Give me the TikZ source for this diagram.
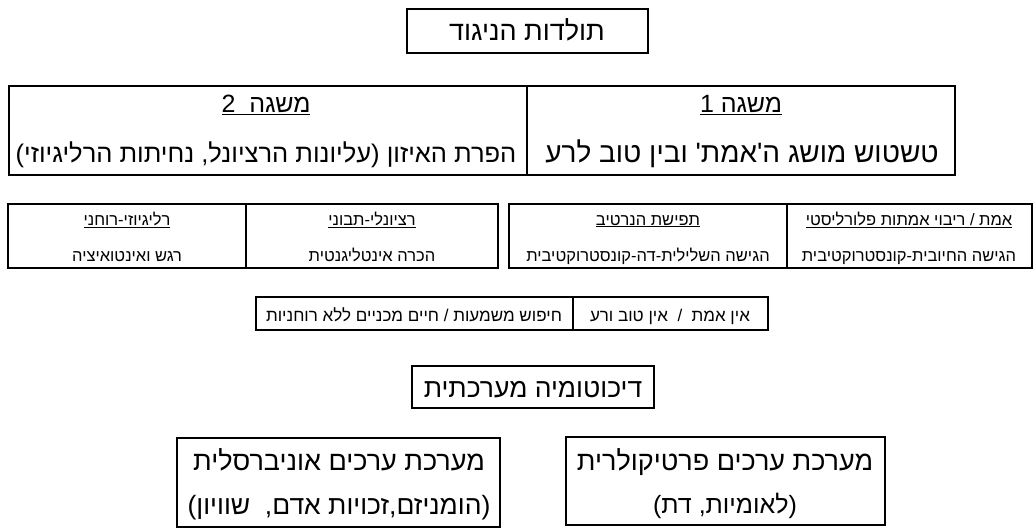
\documentclass[tikz,border=0pt]{standalone}
\usepackage{fontspec}
\TeXXeTstate=1
\newfontfamily\heb[Script=Hebrew]{Liberation Sans}
\newcommand{\hb}[1]{\beginR #1\endR}
\newcommand{\uhb}[1]{\underline{\hb{#1}}}
\newcommand{\fs}[1]{\fontsize{#1}{#1}\selectfont}
\begin{document}
\begin{tikzpicture}[x=1pt,y=-1pt,
  boxline/.style={draw=black,line width=1.3pt},
  txt/.style={anchor=base,inner sep=0pt,font=\heb},
  big/.style={txt,font=\heb\fs{27}},
  mid/.style={txt,font=\heb\fs{16.5}},
  sml/.style={txt,font=\heb\fs{17}}]
\useasboundingbox (0,0) rectangle (1036,532);
% title
\draw[boxline] (407,9) rectangle (648,53);
\node[big] (title) at (527,41) {\hb{תולדות הניגוד}};
% row 1
\draw[boxline] (9,86) rectangle (955,175);
\draw[boxline] (527,86) -- (527,175);
\node[big,font=\heb\fs{25}] (h1) at (741,113) {\uhb{משגה 1}};
\node[big,font=\heb\fs{28}] (t1) at (742,163) {\hb{טשטוש מושג ה'אמת' ובין טוב לרע}};
\node[big,font=\heb\fs{25}] (h2) at (266,113) {\uhb{משגה \ 2}};
\node[big,font=\heb\fs{25.5}] (t2) at (266,163) {\hb{הפרת האיזון (עליונות הרציונל, נחיתות הרליגיוזי)}};
% row 2 right
\draw[boxline] (509,204) rectangle (1032,268);
\draw[boxline] (787,204) -- (787,268);
\node[mid] (a1) at (909,225) {\uhb{אמת / ריבוי אמתות פלורליסטי}};
\node[mid] (a2) at (909,261) {\hb{הגישה החיובית-קונסטרוקטיבית}};
\node[mid] (b1) at (648,225) {\uhb{תפישת הנרטיב}};
\node[mid] (b2) at (648,261) {\hb{הגישה השלילית-דה-קונסטרוקטיבית}};
% row 2 left
\draw[boxline] (8,204) rectangle (498,268);
\draw[boxline] (246,204) -- (246,268);
\node[mid] (c1) at (372,225) {\uhb{רציונלי-תבוני}};
\node[mid] (c2) at (372,261) {\hb{הכרה אינטליגנטית}};
\node[mid] (d1) at (127,225) {\uhb{רליגיוזי-רוחני}};
\node[mid] (d2) at (127,261) {\hb{רגש ואינטואיציה}};
% row 3
\draw[boxline] (256,297) rectangle (768,330);
\draw[boxline] (573,297) -- (573,330);
\node[sml] (e1) at (670,321) {\hb{אין אמת \ / \ אין טוב ורע}};
\node[sml] (e2) at (414,321) {\hb{חיפוש משמעות / חיים מכניים ללא רוחניות}};
% dichotomy
\draw[boxline] (412,366) rectangle (654,408);
\node[big,font=\heb\fs{26.5}] (dich) at (533,397) {\hb{דיכוטומיה מערכתית}};
% bottom
\draw[boxline] (566,437) rectangle (885,525);
\node[big] (p1) at (725,470) {\hb{מערכת ערכים פרטיקולרית}};
\node[big,font=\heb\fs{25}] (p2) at (725,513) {\hb{(לאומיות, דת)}};
\draw[boxline] (177,438) rectangle (500,527);
\node[big] (u1) at (339,470) {\hb{מערכת ערכים אוניברסלית}};
\node[big,font=\heb\fs{26.5}] (u2) at (339,514) {\hb{(הומניזם,זכויות אדם, \ שוויון)}};
\end{tikzpicture}
\end{document}
